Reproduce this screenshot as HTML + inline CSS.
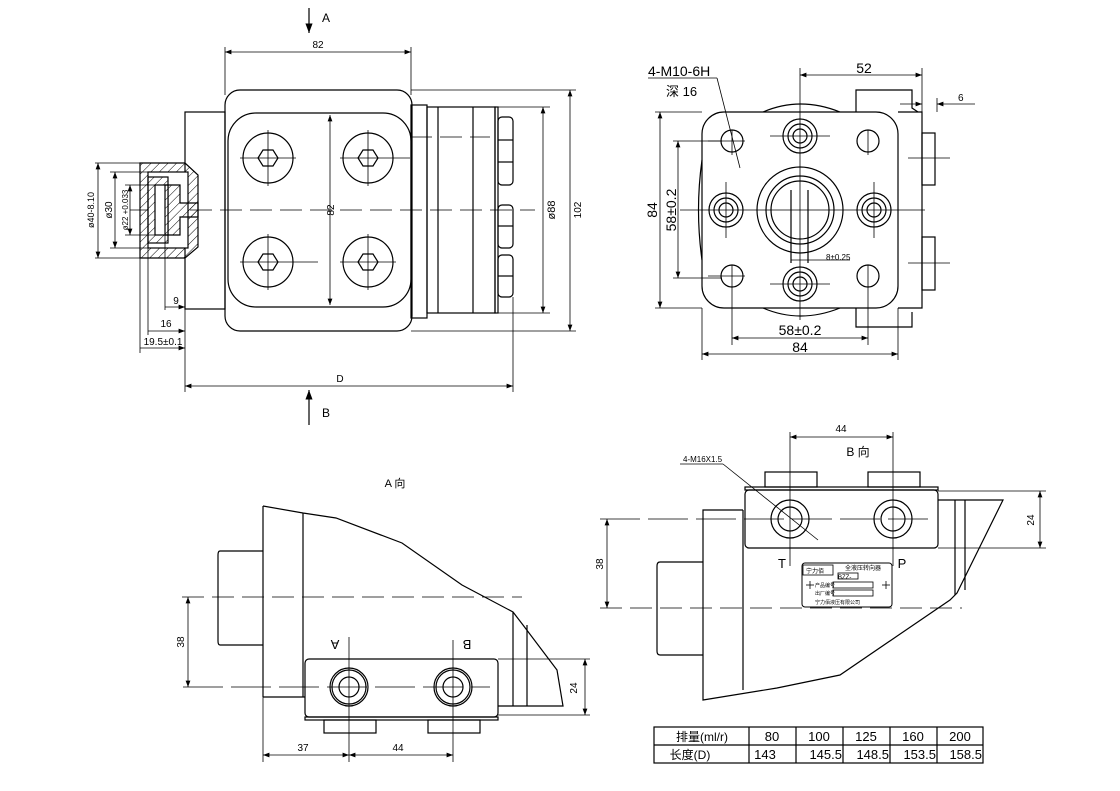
<!DOCTYPE html>
<html><head><meta charset="utf-8"><style>
html,body{margin:0;padding:0;background:#fff;}
svg{display:block;}
text{font-family:"Liberation Sans","Noto Sans CJK SC",sans-serif;fill:#000;}
</style></head><body>
<svg width="1120" height="791" viewBox="0 0 1120 791" xmlns="http://www.w3.org/2000/svg">
<defs>
<pattern id="h" width="6" height="6" patternUnits="userSpaceOnUse" patternTransform="rotate(45)"><line x1="0" y1="0" x2="0" y2="6" stroke="#000" stroke-width="1"/></pattern>
<marker id="a" markerWidth="8" markerHeight="6" refX="8" refY="3" orient="auto-start-reverse"><path d="M0,0 L8,3 L0,6 z" fill="#000"/></marker>
</defs>
<g fill="none" stroke="#000" stroke-width="1.2">
<!-- ===== TOP LEFT VIEW ===== -->
<line x1="309" y1="8" x2="309" y2="33" marker-end="url(#a)"/>
<line x1="225" y1="47" x2="225" y2="95" stroke-width="0.8"/><line x1="411" y1="47" x2="411" y2="95" stroke-width="0.8"/>
<line x1="225" y1="52" x2="411" y2="52" stroke-width="0.8" marker-start="url(#a)" marker-end="url(#a)"/>
<rect x="225" y="90" width="187" height="241" rx="15"/>
<rect x="228" y="113" width="183" height="194" rx="28"/>
<g>
<circle cx="268" cy="158" r="25"/><circle cx="368" cy="158" r="25"/><circle cx="268" cy="262" r="25"/><circle cx="368" cy="262" r="25"/>
<polygon points="258,158 263,150 273,150 278,158 273,166 263,166"/>
<polygon points="358,158 363,150 373,150 378,158 373,166 363,166"/>
<polygon points="258,262 263,254 273,254 278,262 273,270 263,270"/>
<polygon points="358,262 363,254 373,254 378,262 373,270 363,270"/>
</g>
<g stroke-width="0.8">
<line x1="240" y1="158" x2="296" y2="158"/><line x1="268" y1="130" x2="268" y2="186"/>
<line x1="340" y1="158" x2="410" y2="158"/><line x1="368" y1="130" x2="368" y2="186"/>
<line x1="240" y1="262" x2="318" y2="262"/><line x1="268" y1="234" x2="268" y2="290"/>
<line x1="340" y1="262" x2="396" y2="262"/><line x1="368" y1="234" x2="368" y2="290"/>
<line x1="330" y1="115" x2="330" y2="305" marker-start="url(#a)" marker-end="url(#a)"/>
<line x1="410" y1="137" x2="490" y2="137" stroke-dasharray="22,8"/>
<line x1="130" y1="210" x2="535" y2="210" stroke-dasharray="22,8"/>
</g>
<rect x="185" y="112" width="40" height="197"/>
<path d="M140,163 H185 L198,175 V247 L185,258 H140 Z" fill="url(#h)"/>
<rect x="148" y="172" width="40" height="76" fill="#fff"/>
<rect x="148" y="177" width="20" height="66" fill="url(#h)"/>
<rect x="155" y="185" width="13" height="50" fill="#fff"/>
<path d="M165,185 H180 V203 H198 V217 H180 V235 H165 Z" fill="url(#h)"/>
<rect x="411" y="105" width="16" height="213"/>
<rect x="427" y="107" width="68" height="206"/>
<line x1="438" y1="107" x2="438" y2="313"/><line x1="473" y1="107" x2="473" y2="313"/>
<rect x="495" y="107" width="3" height="206"/>
<rect x="498" y="117" width="15" height="68" rx="4"/><line x1="498" y1="140" x2="513" y2="140"/><line x1="498" y1="162" x2="513" y2="162"/>
<rect x="498" y="205" width="15" height="43" rx="4"/><line x1="498" y1="226" x2="513" y2="226"/>
<rect x="498" y="255" width="15" height="42" rx="4"/><line x1="498" y1="276" x2="513" y2="276"/>
<g stroke-width="0.8">
<line x1="490" y1="107" x2="550" y2="107"/><line x1="490" y1="313" x2="550" y2="313"/>
<line x1="543" y1="107" x2="543" y2="313" marker-start="url(#a)" marker-end="url(#a)"/>
<line x1="411" y1="90" x2="576" y2="90"/><line x1="411" y1="331" x2="576" y2="331"/>
<line x1="570" y1="90" x2="570" y2="331" marker-start="url(#a)" marker-end="url(#a)"/>
<line x1="95" y1="163" x2="140" y2="163"/><line x1="95" y1="258" x2="140" y2="258"/>
<line x1="98" y1="163" x2="98" y2="258" marker-start="url(#a)" marker-end="url(#a)"/>
<line x1="110" y1="172" x2="148" y2="172"/><line x1="110" y1="248" x2="148" y2="248"/>
<line x1="115" y1="172" x2="115" y2="248" marker-start="url(#a)" marker-end="url(#a)"/>
<line x1="125" y1="185" x2="165" y2="185"/><line x1="125" y1="235" x2="165" y2="235"/>
<line x1="130" y1="185" x2="130" y2="235" marker-start="url(#a)" marker-end="url(#a)"/>
<line x1="140" y1="258" x2="140" y2="353"/><line x1="148" y1="248" x2="148" y2="335"/><line x1="165" y1="235" x2="165" y2="310"/>
<line x1="185" y1="309" x2="185" y2="392"/><line x1="513" y1="297" x2="513" y2="392"/>
<line x1="165" y1="307" x2="185" y2="307" marker-end="url(#a)"/>
<line x1="148" y1="331" x2="185" y2="331" marker-end="url(#a)"/>
<line x1="140" y1="348" x2="185" y2="348" marker-end="url(#a)"/>
<line x1="185" y1="386" x2="513" y2="386" marker-start="url(#a)" marker-end="url(#a)"/>
</g>
<line x1="309" y1="425" x2="309" y2="390" marker-end="url(#a)"/>

<!-- ===== TOP RIGHT VIEW ===== -->
<rect x="702" y="112" width="196" height="196" rx="22"/>
<path d="M763,112 Q800,96 840,112"/><path d="M763,308 Q800,324 840,308"/>
<path d="M702,160 Q695,210 702,260"/>
<path d="M898,112 H922 V308 H898"/>
<path d="M856,112 V90 H912 V108 L918,112"/><path d="M856,308 V327 H912 V312"/>
<rect x="922" y="133" width="13" height="52"/><rect x="922" y="237" width="13" height="53"/>
<circle cx="800" cy="210" r="43"/><circle cx="800" cy="210" r="34"/><circle cx="800" cy="210" r="29"/>
<line x1="791" y1="190" x2="791" y2="263"/><line x1="808" y1="190" x2="808" y2="263"/>
<g>
<circle cx="800" cy="136" r="17"/><circle cx="800" cy="136" r="12"/><circle cx="800" cy="136" r="7"/>
<circle cx="800" cy="284" r="17"/><circle cx="800" cy="284" r="12"/><circle cx="800" cy="284" r="7"/>
<circle cx="726" cy="210" r="17"/><circle cx="726" cy="210" r="12"/><circle cx="726" cy="210" r="7"/>
<circle cx="874" cy="210" r="17"/><circle cx="874" cy="210" r="12"/><circle cx="874" cy="210" r="7"/>
<circle cx="732" cy="141" r="11"/><circle cx="868" cy="141" r="11"/><circle cx="732" cy="276" r="11"/><circle cx="868" cy="276" r="11"/>
</g>
<g stroke-width="0.8">
<line x1="770" y1="136" x2="830" y2="136"/><line x1="770" y1="284" x2="830" y2="284"/>
<line x1="800" y1="68" x2="800" y2="320"/>
<line x1="680" y1="210" x2="925" y2="210"/><line x1="726" y1="182" x2="726" y2="238"/><line x1="874" y1="182" x2="874" y2="238"/>
<line x1="708" y1="141" x2="745" y2="141"/><line x1="732" y1="130" x2="732" y2="155"/><line x1="868" y1="130" x2="868" y2="155"/>
<line x1="708" y1="276" x2="745" y2="276"/><line x1="732" y1="265" x2="732" y2="345"/><line x1="868" y1="265" x2="868" y2="345"/>
<line x1="908" y1="158" x2="950" y2="158"/><line x1="908" y1="263" x2="950" y2="263"/>
<line x1="800" y1="75" x2="922" y2="75" marker-start="url(#a)" marker-end="url(#a)"/>
<line x1="922" y1="68" x2="922" y2="112"/><line x1="937" y1="98" x2="937" y2="112"/>
<line x1="900" y1="104" x2="922" y2="104" marker-end="url(#a)"/><line x1="975" y1="104" x2="937" y2="104" marker-end="url(#a)"/>
<line x1="655" y1="112" x2="702" y2="112"/><line x1="655" y1="308" x2="702" y2="308"/>
<line x1="660" y1="112" x2="660" y2="308" marker-start="url(#a)" marker-end="url(#a)"/>
<line x1="673" y1="141" x2="722" y2="141"/><line x1="673" y1="278" x2="722" y2="278"/>
<line x1="678" y1="141" x2="678" y2="278" marker-start="url(#a)" marker-end="url(#a)"/>
<line x1="732" y1="338" x2="868" y2="338" marker-start="url(#a)" marker-end="url(#a)"/>
<line x1="702" y1="308" x2="702" y2="360"/><line x1="898" y1="308" x2="898" y2="360"/>
<line x1="702" y1="354" x2="898" y2="354" marker-start="url(#a)" marker-end="url(#a)"/>
<line x1="791" y1="260" x2="808" y2="260"/><line x1="808" y1="260" x2="850" y2="260"/>
<line x1="648" y1="78" x2="717" y2="78"/><line x1="717" y1="78" x2="740" y2="168"/>
</g>

<!-- ===== BOTTOM LEFT VIEW ===== -->
<path d="M263,506 L303,513 L336,518 L402,543 L462,585 L513,612 L523,625 L557,670 L563,706 L498,706"/>
<line x1="263" y1="506" x2="263" y2="697"/><line x1="303" y1="513" x2="303" y2="697"/>
<line x1="263" y1="697" x2="305" y2="697"/>
<path d="M263,551 H220 Q218,551 218,555 V641 Q218,645 220,645 H263"/>
<line x1="513" y1="612" x2="513" y2="706"/><line x1="527" y1="625" x2="527" y2="706"/>
<rect x="305" y="659" width="193" height="58" rx="4"/>
<rect x="305" y="717" width="193" height="3"/>
<rect x="324" y="720" width="52" height="13"/><rect x="428" y="720" width="52" height="13"/>
<circle cx="349" cy="687" r="19"/><circle cx="349" cy="687" r="17"/><circle cx="349" cy="687" r="10"/>
<circle cx="453" cy="687" r="19"/><circle cx="453" cy="687" r="17"/><circle cx="453" cy="687" r="10"/>
<g stroke-width="0.8">
<line x1="182" y1="597" x2="522" y2="597" stroke-dasharray="22,8"/>
<line x1="183" y1="687" x2="490" y2="687" stroke-dasharray="40,8"/>
<line x1="349" y1="637" x2="349" y2="762"/><line x1="453" y1="640" x2="453" y2="762"/>
<line x1="188" y1="597" x2="188" y2="687" marker-start="url(#a)" marker-end="url(#a)"/>
<line x1="498" y1="659" x2="590" y2="659"/><line x1="498" y1="715" x2="590" y2="715"/>
<line x1="585" y1="659" x2="585" y2="715" marker-start="url(#a)" marker-end="url(#a)"/>
<line x1="263" y1="697" x2="263" y2="762"/>
<line x1="263" y1="755" x2="349" y2="755" marker-start="url(#a)" marker-end="url(#a)"/>
<line x1="349" y1="755" x2="453" y2="755" marker-start="url(#a)" marker-end="url(#a)"/>
</g>

<!-- ===== BOTTOM RIGHT VIEW ===== -->
<rect x="765" y="472" width="52" height="15"/><rect x="868" y="472" width="52" height="15"/>
<rect x="745" y="487" width="193" height="3"/>
<rect x="745" y="490" width="193" height="58" rx="4"/>
<path d="M743,510 H703 V700 L777,688 L840,675 L950,600 L957,593 L1003,500 H938"/>
<line x1="743" y1="510" x2="743" y2="690"/>
<path d="M703,562 H660 Q657,562 657,566 V651 Q657,655 660,655 H703"/>
<line x1="955" y1="500" x2="955" y2="595"/><line x1="965" y1="500" x2="965" y2="590"/>
<circle cx="790" cy="519" r="19"/><circle cx="790" cy="519" r="12"/>
<circle cx="893" cy="519" r="19"/><circle cx="893" cy="519" r="12"/>
<rect x="802" y="563" width="90" height="44" rx="3" stroke-width="1"/>
<rect x="803" y="565" width="30" height="10" stroke-width="0.8"/>
<rect x="838" y="573" width="20" height="6" stroke-width="0.8"/>
<rect x="833" y="582" width="40" height="6" stroke-width="0.8"/><rect x="833" y="590" width="40" height="6" stroke-width="0.8"/>
<g stroke-width="0.8">
<line x1="790" y1="432" x2="790" y2="566"/><line x1="893" y1="432" x2="893" y2="566"/>
<line x1="790" y1="437" x2="893" y2="437" marker-start="url(#a)" marker-end="url(#a)"/>
<line x1="680" y1="464" x2="723" y2="464"/><line x1="723" y1="464" x2="818" y2="540"/>
<line x1="600" y1="519" x2="935" y2="519" stroke-dasharray="40,8"/>
<line x1="600" y1="608" x2="962" y2="608" stroke-dasharray="22,8"/>
<line x1="607" y1="519" x2="607" y2="608" marker-start="url(#a)" marker-end="url(#a)"/>
<line x1="938" y1="491" x2="1046" y2="491"/><line x1="938" y1="548" x2="1046" y2="548"/>
<line x1="1040" y1="491" x2="1040" y2="548" marker-start="url(#a)" marker-end="url(#a)"/>
<line x1="806" y1="585" x2="814" y2="585"/><line x1="810" y1="581" x2="810" y2="589"/>
<line x1="882" y1="585" x2="890" y2="585"/><line x1="886" y1="581" x2="886" y2="589"/>
</g>
<!-- table -->
<rect x="654" y="727" width="329" height="36"/>
<line x1="654" y1="745" x2="983" y2="745"/>
<line x1="749" y1="727" x2="749" y2="763"/><line x1="796" y1="727" x2="796" y2="763"/><line x1="843" y1="727" x2="843" y2="763"/><line x1="890" y1="727" x2="890" y2="763"/><line x1="937" y1="727" x2="937" y2="763"/>
</g>

<g font-size="12">
<text x="322" y="22">A</text>
<text x="318" y="48" font-size="10" text-anchor="middle">82</text>
<text x="322" y="417">B</text>
<text x="340" y="382" font-size="10" text-anchor="middle">D</text>
<text x="176" y="304" font-size="10" text-anchor="middle">9</text>
<text x="166" y="327" font-size="10" text-anchor="middle">16</text>
<text x="163" y="345" font-size="10" text-anchor="middle">19.5±0.1</text>
<text transform="translate(334,210) rotate(-90)" font-size="10" text-anchor="middle">82</text>
<text transform="translate(555,210) rotate(-90)" font-size="11" text-anchor="middle">ø88</text>
<text transform="translate(581,210) rotate(-90)" font-size="10" text-anchor="middle">102</text>
<text transform="translate(94,210) rotate(-90)" font-size="9" text-anchor="middle">ø40-8.10</text>
<text transform="translate(112,210) rotate(-90)" font-size="10" text-anchor="middle">ø30</text>
<text transform="translate(128,210) rotate(-90)" font-size="8" text-anchor="middle">ø22 +0.033</text>

<text x="648" y="76" font-size="14">4-M10-6H</text>
<text x="666" y="96" font-size="13">深 16</text>
<text x="864" y="73" font-size="14" text-anchor="middle">52</text>
<text x="958" y="101" font-size="10">6</text>
<text transform="translate(657,210) rotate(-90)" font-size="14" text-anchor="middle">84</text>
<text transform="translate(676,210) rotate(-90)" font-size="14" text-anchor="middle">58±0.2</text>
<text x="800" y="335" font-size="14" text-anchor="middle">58±0.2</text>
<text x="800" y="352" font-size="14" text-anchor="middle">84</text>
<text x="826" y="260" font-size="8">8±0.25</text>

<text x="395" y="487" font-size="11" text-anchor="middle">A  向</text>
<text transform="translate(335,640) rotate(180)" font-size="13" text-anchor="middle">A</text>
<text transform="translate(467,640) rotate(180)" font-size="13" text-anchor="middle">B</text>
<text transform="translate(184,642) rotate(-90)" font-size="10" text-anchor="middle">38</text>
<text transform="translate(577,688) rotate(-90)" font-size="10" text-anchor="middle">24</text>
<text x="303" y="751" font-size="10" text-anchor="middle">37</text>
<text x="398" y="751" font-size="10" text-anchor="middle">44</text>

<text x="841" y="432" font-size="10" text-anchor="middle">44</text>
<text x="858" y="456" font-size="12" text-anchor="middle">B  向</text>
<text x="683" y="462" font-size="8">4-M16X1.5</text>
<text x="782" y="568" font-size="13" text-anchor="middle">T</text>
<text x="902" y="568" font-size="13" text-anchor="middle">P</text>
<text transform="translate(603,564) rotate(-90)" font-size="10" text-anchor="middle">38</text>
<text transform="translate(1034,520) rotate(-90)" font-size="10" text-anchor="middle">24</text>
<text x="806" y="573" font-size="6">宁力佰</text>
<text x="845" y="570" font-size="6">全液压转向器</text>
<text x="838" y="579" font-size="6">BZZ-</text>
<text x="815" y="587" font-size="5">产品编号</text>
<text x="815" y="595" font-size="5">出厂编号</text>
<text x="815" y="604" font-size="5">宁力佰液压有限公司</text>

<text x="702" y="741" font-size="12" text-anchor="middle">排量(ml/r)</text>
<text x="772" y="741" font-size="13" text-anchor="middle">80</text>
<text x="819" y="741" font-size="13" text-anchor="middle">100</text>
<text x="866" y="741" font-size="13" text-anchor="middle">125</text>
<text x="913" y="741" font-size="13" text-anchor="middle">160</text>
<text x="960" y="741" font-size="13" text-anchor="middle">200</text>
<text x="690" y="759" font-size="12" text-anchor="middle">长度(D)</text>
<text x="765" y="759" font-size="13" text-anchor="middle">143</text>
<text x="842" y="759" font-size="13" text-anchor="end">145.5</text>
<text x="889" y="759" font-size="13" text-anchor="end">148.5</text>
<text x="936" y="759" font-size="13" text-anchor="end">153.5</text>
<text x="982" y="759" font-size="13" text-anchor="end">158.5</text>
</g>
</svg>
</body></html>
